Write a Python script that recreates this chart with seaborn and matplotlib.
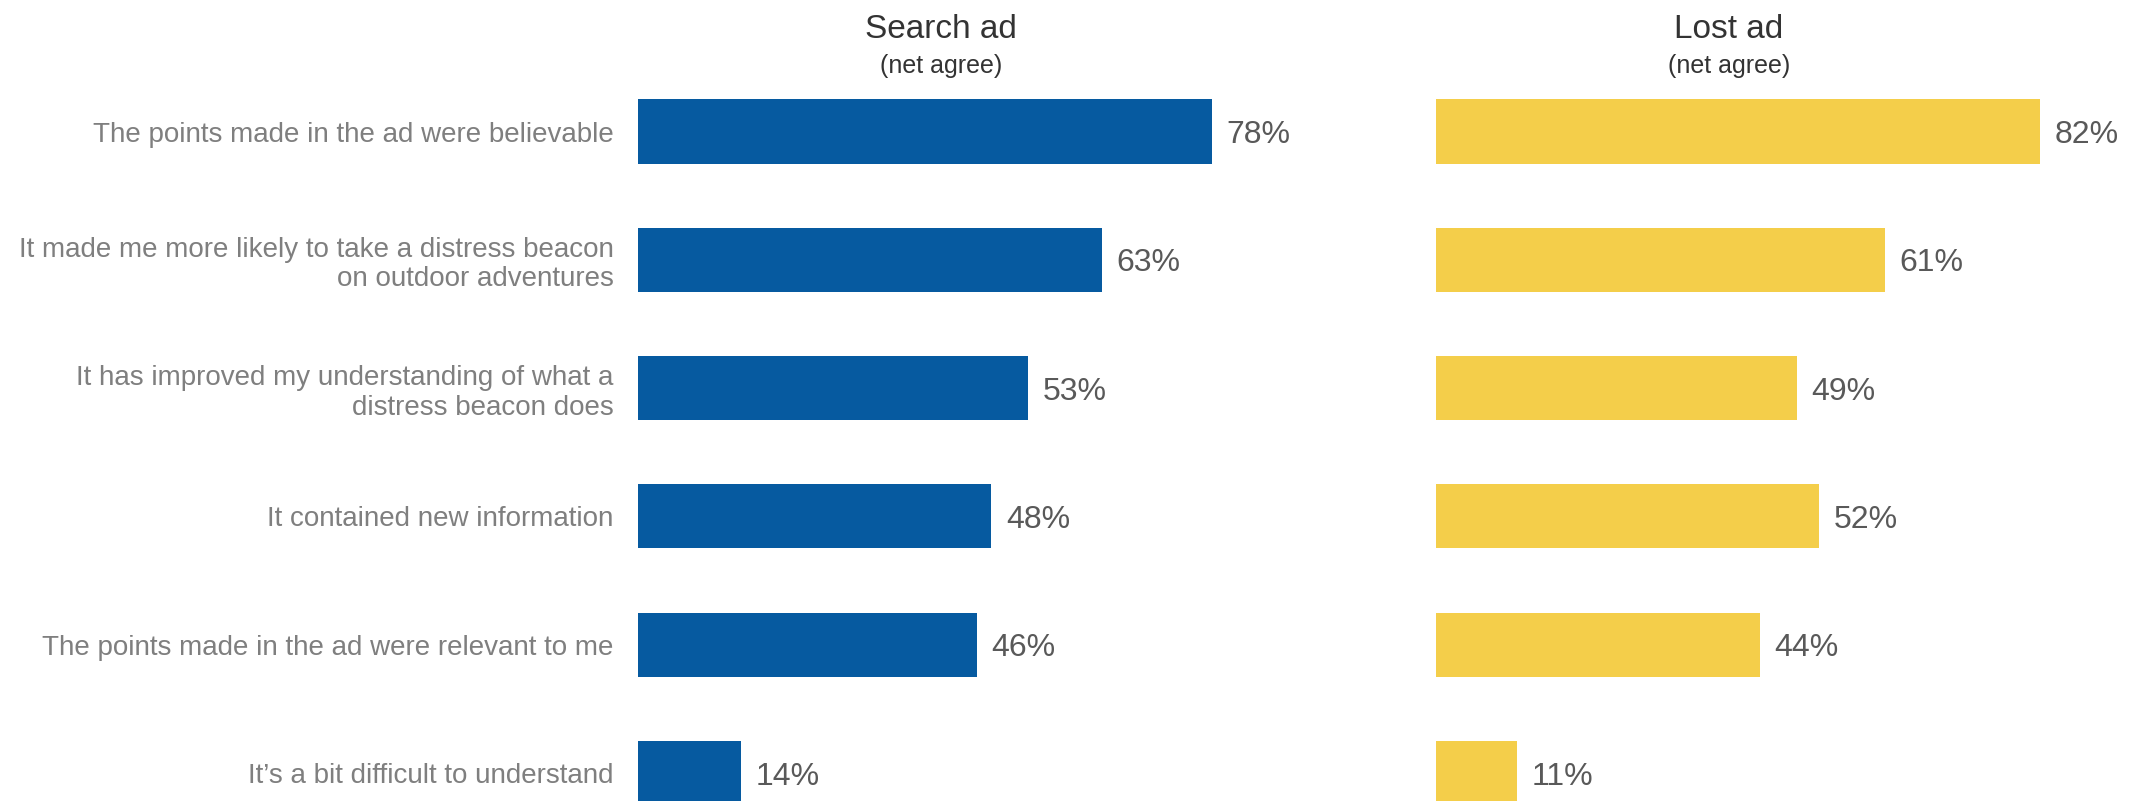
import matplotlib
matplotlib.use("Agg")
import matplotlib.pyplot as plt
import seaborn as sns
import pandas as pd

statements = [
    "The points made in the ad were believable",
    "It made me more likely to take a distress beacon\non outdoor adventures",
    "It has improved my understanding of what a\ndistress beacon does",
    "It contained new information",
    "The points made in the ad were relevant to me",
    "It\u2019s a bit difficult to understand",
]
search_ad = [78, 63, 53, 48, 46, 14]
lost_ad = [82, 61, 49, 52, 44, 11]

panel_titles = ["Search ad", "Lost ad"]
subtitle = "(net agree)"

BLUE = "#065AA0"
YELLOW = "#F4CE4A"

sns.set_theme(style="white")
plt.rcParams["font.family"] = ["Liberation Sans", "DejaVu Sans"]

W, H = 2138, 801
fig = plt.figure(figsize=(W / 100, H / 100), dpi=100)

pitch = 128.3
first_center = 131.5
ax_top = first_center - pitch / 2
ax_h = pitch * len(statements)
px_per_pct = 7.36
xmax = 90
ax_w = px_per_pct * xmax


def make_axes(x0_px):
    return fig.add_axes([x0_px / W, 1 - (ax_top + ax_h) / H, ax_w / W, ax_h / H])


ax_left = make_axes(638)
ax_right = make_axes(1436)

df = pd.DataFrame({"statement": statements, "Search ad": search_ad, "Lost ad": lost_ad})

for ax, col, color in [(ax_left, "Search ad", BLUE), (ax_right, "Lost ad", YELLOW)]:
    sns.barplot(data=df, x=col, y="statement", orient="h", color=color,
                width=0.5, saturation=1, ax=ax, linewidth=0)
    ax.set_xlim(0, xmax)
    ax.set_ylim(len(statements) - 0.5, -0.5)
    ax.set_xlabel("")
    ax.set_ylabel("")
    ax.set_xticks([])
    for s in ax.spines.values():
        s.set_visible(False)
    for i, v in enumerate(df[col]):
        ax.text(v + 2.0, i, f"{v}%", va="center_baseline", ha="left",
                fontsize=23, color="#595959")

ax_right.set_yticks([])
ax_left.tick_params(axis="y", length=0, pad=17.5)
for lbl in ax_left.get_yticklabels():
    lbl.set_fontsize(20)
    lbl.set_color("#7F7F7F")
    lbl.set_linespacing(1.17)
    lbl.set_horizontalalignment("right")

for cx, title in [(941, panel_titles[0]), (1729, panel_titles[1])]:
    fig.text(cx / W, 1 - 29 / H, title, ha="center", va="center",
             fontsize=24, color="#333333")
    fig.text(cx / W, 1 - 66 / H, subtitle, ha="center", va="center",
             fontsize=18, color="#333333")

fig.savefig("out.png", dpi=100)
